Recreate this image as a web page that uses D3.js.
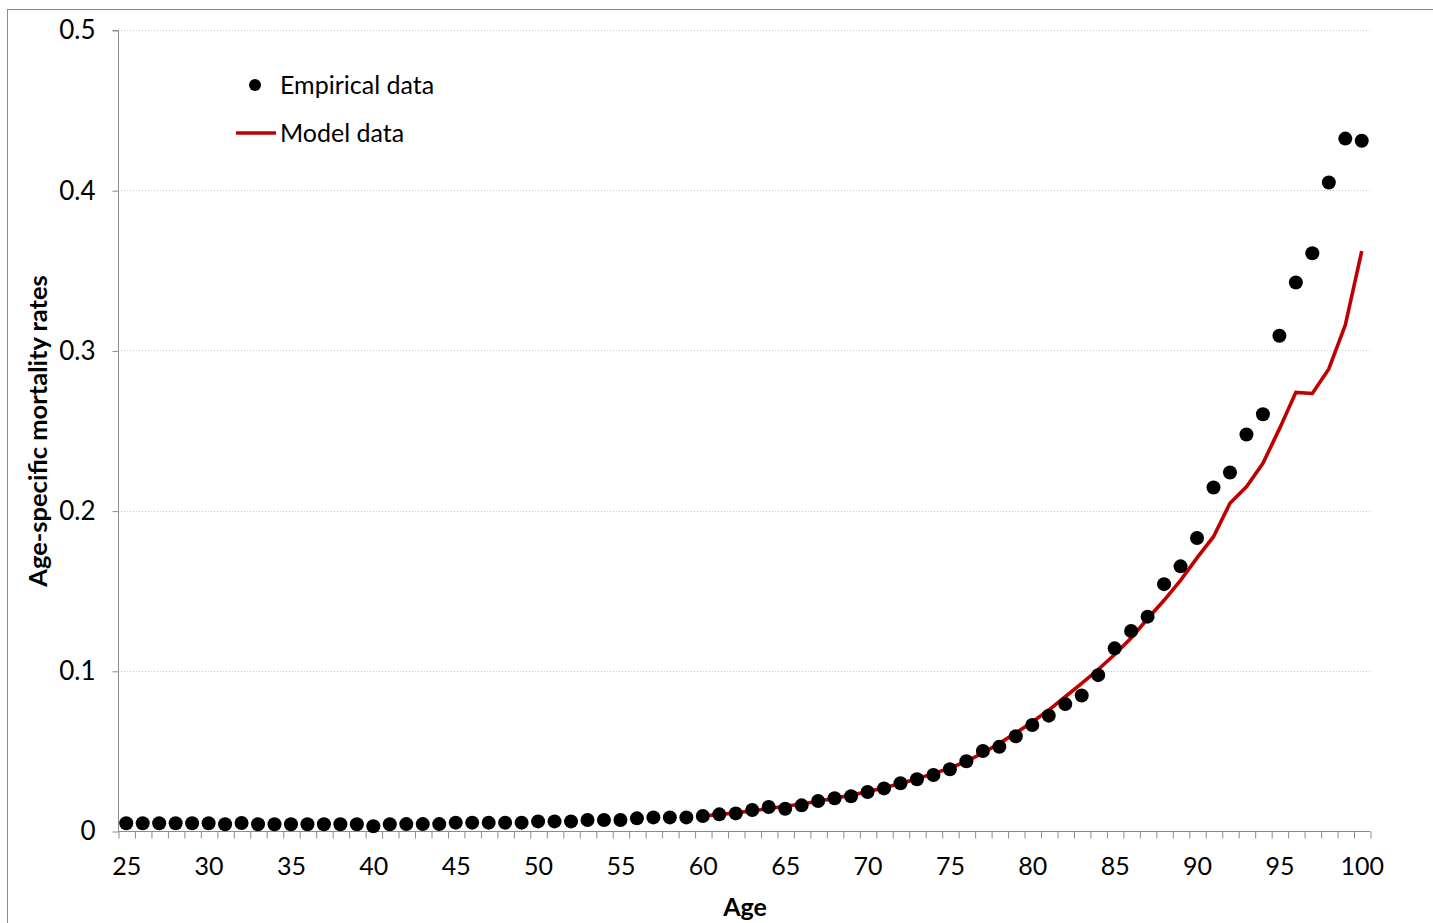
<!DOCTYPE html>
<html>
<head>
<meta charset="utf-8">
<script src="https://cdn.jsdelivr.net/npm/d3@7/dist/d3.min.js"></script>
<style>
  html, body { margin: 0; padding: 0; background: #fff; }
  svg { display: block; }
  text { font-family: Lato, "Open Sans", "Liberation Sans", sans-serif; fill: #000; }
</style>
</head>
<body>
<svg id="chart" width="1433" height="923"></svg>
<script>
// Ages (categories on the x axis)
const ages = [25, 26, 27, 28, 29, 30, 31, 32, 33, 34, 35, 36, 37, 38, 39, 40,
  41, 42, 43, 44, 45, 46, 47, 48, 49, 50, 51, 52, 53, 54, 55, 56, 57, 58, 59, 60,
  61, 62, 63, 64, 65, 66, 67, 68, 69, 70, 71, 72, 73, 74, 75, 76, 77, 78, 79, 80,
  81, 82, 83, 84, 85, 86, 87, 88, 89, 90, 91, 92, 93, 94, 95, 96, 97, 98, 99, 100];

// Observed age-specific mortality rates, one per age
const empiricalRates = [0.0048, 0.0048, 0.0048, 0.0048, 0.0048, 0.0048, 0.0042, 0.0050,
  0.0042, 0.0042, 0.0042, 0.0042, 0.0042, 0.0042, 0.0042, 0.0030, 0.0042, 0.0043,
  0.0043, 0.0043, 0.0052, 0.0052, 0.0052, 0.0052, 0.0052, 0.0060, 0.0060, 0.0060,
  0.0069, 0.0069, 0.0069, 0.0079, 0.0085, 0.0085, 0.0085, 0.0094, 0.0104, 0.0110,
  0.0131, 0.0150, 0.0139, 0.0160, 0.0187, 0.0204, 0.0217, 0.0243, 0.0266, 0.0298,
  0.0323, 0.0350, 0.0385, 0.0435, 0.0499, 0.0526, 0.0591, 0.0662, 0.0720, 0.0792,
  0.0846, 0.0973, 0.1140, 0.1248, 0.1338, 0.1541, 0.1652, 0.1829, 0.2144, 0.2238,
  0.2475, 0.2601, 0.3091, 0.3424, 0.3606, 0.4048, 0.4322, 0.4309];

// Model ages and fitted rates
const modelAges = [60, 61, 62, 63, 64, 65, 66, 67, 68, 69, 70, 71, 72, 73, 74, 75, 76,
  77, 78, 79, 80, 81, 82, 83, 84, 85, 86, 87, 88, 89, 90, 91, 92, 93, 94, 95, 96,
  97, 98, 99, 100];
const modelRates = [0.0094, 0.0103, 0.0113, 0.0126, 0.0140, 0.0154, 0.0169, 0.0186,
  0.0204, 0.0224, 0.0245, 0.0270, 0.0297, 0.0326, 0.0358, 0.0393, 0.0435, 0.0487,
  0.0547, 0.0612, 0.0680, 0.0755, 0.0838, 0.0922, 0.1008, 0.1102, 0.1205, 0.1325,
  0.1440, 0.1565, 0.1705, 0.1837, 0.2046, 0.2149, 0.2295, 0.2510, 0.2738, 0.2731,
  0.2884, 0.3158, 0.3620];

// Axis labels
const xTickLabels = [25, 30, 35, 40, 45, 50, 55, 60, 65, 70, 75, 80, 85, 90, 95, 100];
const yTickLabels = [0, 0.1, 0.2, 0.3, 0.4, 0.5];

const svg = d3.select("#chart");
const axisColor = "#8c8c8c";
const fontFamily = "Lato, 'Open Sans', sans-serif";

const x = d3.scaleLinear().domain([24.5, 100.5]).range([118, 1370]);
const y = d3.scaleLinear().domain([0, 0.5]).range([831, 30]);

// Outer chart frame
svg.append("rect")
  .attr("x", 7.5).attr("y", 9.5)
  .attr("width", 1440).attr("height", 930)
  .attr("fill", "none").attr("stroke", "#8c8c8c").attr("stroke-width", 1);

// Horizontal gridlines
svg.append("g")
  .selectAll("line")
  .data(yTickLabels.filter(d => d > 0))
  .join("line")
  .attr("x1", x(24.5)).attr("x2", x(100.5))
  .attr("y1", d => Math.round(y(d)) + 0.5).attr("y2", d => Math.round(y(d)) + 0.5)
  .attr("stroke", "#c8c8c8").attr("stroke-width", 1)
  .attr("stroke-dasharray", "1,2");

// Y axis
const yAxis = d3.axisLeft(y)
  .tickValues(yTickLabels)
  .tickFormat(d => d === 0 ? "0" : d3.format(".1f")(d))
  .tickSize(6)
  .tickPadding(17);
const gy = svg.append("g")
  .attr("transform", `translate(${x(24.5) + 0.5},0.5)`)
  .call(yAxis);
gy.select(".domain").attr("stroke", axisColor).attr("d", `M-6,${y(0.5)}H0V${y(0)}`);
gy.selectAll(".tick line").attr("stroke", axisColor);
gy.selectAll(".tick text")
  .attr("font-size", 26)
  .attr("font-family", fontFamily)
  .attr("fill", "#000");

// X axis: tick marks between categories, labels every 5 years
const xAxisMarks = d3.axisBottom(x)
  .tickValues(ages.map(a => a - 0.5).concat([100.5]))
  .tickFormat("")
  .tickSize(7);
const gx = svg.append("g")
  .attr("transform", `translate(0.5,${Math.round(y(0)) + 0.5})`)
  .call(xAxisMarks);
gx.select(".domain").attr("stroke", axisColor).attr("d", `M${x(24.5)},0H${x(100.5)}`);
gx.selectAll(".tick line").attr("stroke", axisColor);

const gxl = svg.append("g")
  .attr("transform", `translate(0,${Math.round(y(0))})`)
  .call(d3.axisBottom(x).tickValues(xTickLabels).tickSize(0).tickPadding(26));
gxl.select(".domain").remove();
gxl.selectAll(".tick text")
  .attr("font-size", 25)
  .attr("font-family", fontFamily)
  .attr("fill", "#000");

// Axis titles
svg.append("text")
  .attr("x", 745).attr("y", 916)
  .attr("text-anchor", "middle")
  .attr("font-size", 25).attr("font-weight", "bold")
  .text("Age");

svg.append("text")
  .attr("transform", "translate(47,431) rotate(-90)")
  .attr("text-anchor", "middle")
  .attr("font-size", 25.5).attr("font-weight", "bold")
  .text("Age-specific mortality rates");

// Model line
const line = d3.line()
  .x((d, i) => x(modelAges[i]))
  .y(d => y(d));
svg.append("path")
  .datum(modelRates)
  .attr("d", line)
  .attr("fill", "none")
  .attr("stroke", "#c00000")
  .attr("stroke-width", 3.6)
  .attr("stroke-linejoin", "miter");

// Empirical points
svg.append("g")
  .selectAll("circle")
  .data(empiricalRates)
  .join("circle")
  .attr("cx", (d, i) => x(ages[i]))
  .attr("cy", d => y(d))
  .attr("r", 7)
  .attr("fill", "#000");

// Legend
const legend = svg.append("g");
legend.append("circle")
  .attr("cx", 255).attr("cy", 85).attr("r", 6).attr("fill", "#000");
legend.append("text")
  .attr("x", 280).attr("y", 94)
  .attr("font-size", 25)
  .text("Empirical data");
legend.append("line")
  .attr("x1", 236).attr("x2", 276)
  .attr("y1", 133).attr("y2", 133)
  .attr("stroke", "#c00000").attr("stroke-width", 3.6);
legend.append("text")
  .attr("x", 280).attr("y", 142)
  .attr("font-size", 25)
  .text("Model data");
</script>
</body>
</html>
